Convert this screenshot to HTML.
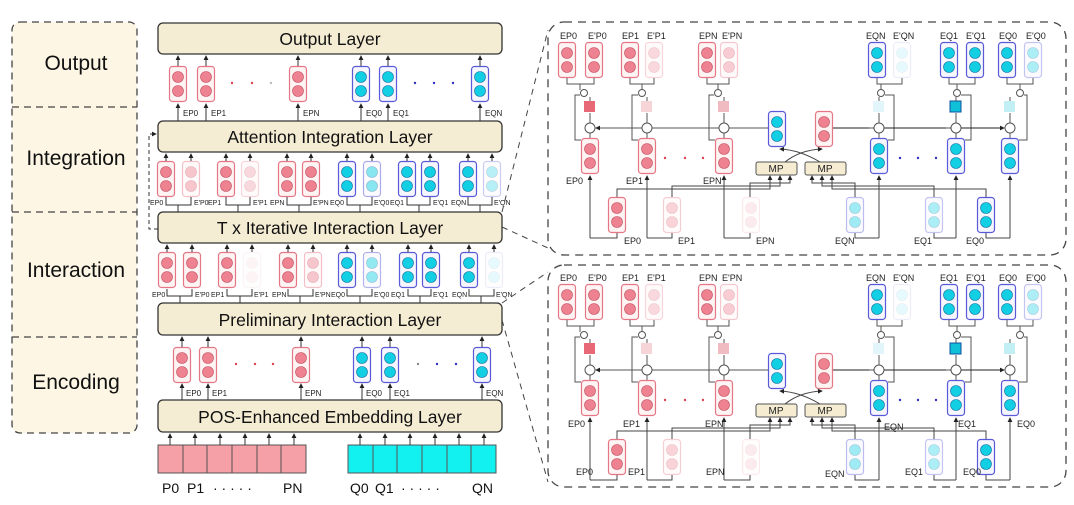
<!DOCTYPE html>
<html><head><meta charset="utf-8"><style>
html,body{margin:0;padding:0;background:#fff}
svg{display:block;font-family:"Liberation Sans",sans-serif}
</style></head><body>
<svg width="1074" height="505" viewBox="0 0 1074 505" xmlns="http://www.w3.org/2000/svg">
<defs>
<marker id="ah" viewBox="0 0 6 6" refX="5" refY="3" markerWidth="5" markerHeight="5" orient="auto"><path d="M0,0L6,3L0,6z" fill="#222"/></marker>
<symbol id="r" width="18" height="36" overflow="visible"><rect x="0.5" y="0.5" width="17" height="35" rx="3" fill="#fff4f4" stroke="#e57686" stroke-width="1.2"/><circle cx="9" cy="11" r="5.5" fill="#ee8290" stroke="#c05060" stroke-width=".6"/><circle cx="9" cy="25" r="5.5" fill="#ee8290" stroke="#c05060" stroke-width=".6"/></symbol>
<symbol id="b" width="18" height="36" overflow="visible"><rect x="0.5" y="0.5" width="17" height="35" rx="3" fill="#f6f6ff" stroke="#5a5ad8" stroke-width="1.2"/><circle cx="9" cy="11" r="5.5" fill="#12cfe3" stroke="#1070a0" stroke-width=".6"/><circle cx="9" cy="25" r="5.5" fill="#12cfe3" stroke="#1070a0" stroke-width=".6"/></symbol>
<g id="panel">
 <use href="#r" x="558" y="42"/><use href="#r" x="585" y="42"/>
 <use href="#r" x="621" y="42"/><use href="#r" x="645" y="42" opacity=".3"/>
 <use href="#r" x="698" y="42"/><use href="#r" x="720" y="42" opacity=".4"/>
 <use href="#b" x="868" y="42"/><use href="#b" x="893" y="42" opacity=".1"/>
 <use href="#b" x="940" y="42"/><use href="#b" x="966" y="42"/>
 <use href="#b" x="998" y="42"/><use href="#b" x="1024" y="42" opacity=".35"/>
 <g fill="none" stroke="#555" stroke-width="1">
  <path d="M567,78V84H594V78M580,84V90"/><path d="M630,78V84H654V78M642,84V90"/><path d="M707,78V84H729V78M718,84V90"/>
  <path d="M877,78V84H902V78M881,84V90"/><path d="M949,78V84H975V78M957,84V90"/><path d="M1007,78V84H1033V78M1020,84V90"/>
 </g>
 <g fill="#fff" stroke="#555" stroke-width="1">
  <circle cx="584" cy="93" r="3.5"/><circle cx="642" cy="93" r="3.5"/><circle cx="718" cy="93" r="3.5"/>
  <circle cx="881" cy="93" r="3.5"/><circle cx="957" cy="93" r="3.5"/><circle cx="1020" cy="93" r="3.5"/>
 </g>
 <rect x="584" y="101" width="11" height="11" fill="#e86878"/>
 <rect x="641" y="101" width="11" height="11" fill="#f0b8bc" opacity=".6"/>
 <rect x="718" y="101" width="11" height="11" fill="#eaa0a8" opacity=".7"/>
 <rect x="873" y="101" width="11" height="11" fill="#cdeef6" opacity=".6"/>
 <rect x="950" y="101" width="11" height="11" fill="#10c0d8" stroke="#1050a0"/>
 <rect x="1004" y="101" width="11" height="11" fill="#a8e8f0" opacity=".7"/>
 <g fill="none" stroke="#555" stroke-width="1">
  <path d="M590,138V133M590,123V113M590,101V97"/><path d="M581,140H575V95H580"/>
  <path d="M647,138V133M647,123V113M647,101V97"/><path d="M638,140H632V95H638"/>
  <path d="M724,138V133M724,123V113M724,101V97"/><path d="M715,140H709V95H714"/>
  <path d="M879,138V133M879,123V113M879,101V97"/><path d="M888,140H894V95H885"/>
  <path d="M956,138V133M956,123V113M956,101V97"/><path d="M965,140H971V95H961"/>
  <path d="M1010,138V133M1010,123V113M1010,101V97"/><path d="M1019,140H1027V95H1024"/>
  <path d="M768,128H596" marker-end="url(#ah)"/><path d="M833,128H1004" stroke="#222"/>
  <path d="M869,128H873M946,128H950M1000,128H1004" marker-end="url(#ah)"/>
 </g>
 <g fill="#fff" stroke="#555" stroke-width="1">
  <circle cx="590" cy="128" r="5"/><circle cx="647" cy="128" r="5"/><circle cx="724" cy="128" r="5"/>
  <circle cx="879" cy="128" r="5"/><circle cx="956" cy="128" r="5"/><circle cx="1010" cy="128" r="5"/>
 </g>
 <use href="#r" x="581" y="138"/><use href="#r" x="638" y="138"/><use href="#r" x="715" y="138"/>
 <use href="#b" x="870" y="138"/><use href="#b" x="947" y="138"/><use href="#b" x="1001" y="138"/>
 <use href="#b" x="768" y="111"/><use href="#r" x="815" y="111"/>
 <g fill="#e04050"><circle cx="665" cy="158" r="1.2"/><circle cx="685" cy="158" r="1.2"/><circle cx="703" cy="158" r="1.2"/></g>
 <g fill="#3030c0"><circle cx="900" cy="158" r="1.2"/><circle cx="918" cy="158" r="1.2"/><circle cx="936" cy="158" r="1.2"/></g>
 <rect x="756" y="162" width="41" height="13" rx="2" fill="#f5ecd2" stroke="#555"/>
 <rect x="805" y="162" width="41" height="13" rx="2" fill="#f5ecd2" stroke="#555"/>
 <g fill="none" stroke="#444" stroke-width="1">
  <path d="M785,162Q800,150 822,149" marker-end="url(#ah)"/><path d="M820,162Q800,150 780,149" marker-end="url(#ah)"/>
  <path d="M590,238V176" marker-end="url(#ah)"/><path d="M647,238V176" marker-end="url(#ah)"/><path d="M724,238V176" marker-end="url(#ah)"/>
  <path d="M879,238V176" marker-end="url(#ah)"/><path d="M956,238V176" marker-end="url(#ah)"/><path d="M1010,238V176" marker-end="url(#ah)"/>
  <path d="M617,197V189H770V176" marker-end="url(#ah)"/><path d="M672,197V186H780V176" marker-end="url(#ah)"/><path d="M750,197V183H790V176" marker-end="url(#ah)"/>
  <path d="M855,197V183H812V176" marker-end="url(#ah)"/><path d="M934,197V186H822V176" marker-end="url(#ah)"/><path d="M986,197V189H832V176" marker-end="url(#ah)"/>
  <path d="M590,238H617V233M647,238H672V233M724,238H750V233M879,238H855V233M956,238H934V233M1010,238H986V233"/>
 </g>
 <use href="#r" x="608" y="197"/><use href="#r" x="663" y="197" opacity=".35"/><use href="#r" x="742" y="197" opacity=".15"/>
 <use href="#b" x="846" y="197" opacity=".4"/><use href="#b" x="925" y="197" opacity=".35"/><use href="#b" x="977" y="197"/>
</g>
</defs>

<rect x="12" y="22" width="125" height="411" rx="8" fill="#fdf6e4" stroke="#444" stroke-dasharray="7,5" stroke-width="1.3"/>
<path d="M12,107H137M12,212H137M12,337H137" stroke="#444" stroke-dasharray="7,5" stroke-width="1.3"/>
<g font-size="21" text-anchor="middle" fill="#111">
<text x="76" y="70">Output</text><text x="76" y="165">Integration</text><text x="76" y="277">Interaction</text><text x="76" y="389">Encoding</text>
</g>

<g fill="#f5ecd4" stroke="#333" stroke-width="1.3">
<rect x="158" y="23" width="344" height="31" rx="5"/>
<rect x="158" y="121" width="344" height="31" rx="5"/>
<rect x="158" y="212" width="344" height="31" rx="5"/>
<rect x="158" y="303" width="344" height="32" rx="5"/>
<rect x="158" y="400" width="344" height="32" rx="5"/>
</g>
<g font-size="17.5" text-anchor="middle" fill="#111">
<text x="330" y="45">Output Layer</text>
<text x="330" y="143">Attention Integration Layer</text>
<text x="330" y="234">T x Iterative Interaction Layer</text>
<text x="330" y="326">Preliminary Interaction Layer</text>
<text x="330" y="423">POS-Enhanced Embedding Layer</text>
</g>

<use href="#r" x="169" y="66"/><use href="#r" x="197" y="66"/><use href="#r" x="289" y="66"/>
<use href="#b" x="352" y="66"/><use href="#b" x="379" y="66"/><use href="#b" x="471" y="66"/>
<g stroke="#333" fill="none" marker-end="url(#ah)">
<path d="M178,66V56"/><path d="M206,66V56"/><path d="M298,66V56"/><path d="M361,66V56"/><path d="M388,66V56"/><path d="M480,66V56"/>
<path d="M178,121V104"/><path d="M206,121V104"/><path d="M298,121V104"/><path d="M361,121V104"/><path d="M388,121V104"/><path d="M480,121V104"/>
</g>
<g fill="#e04050"><circle cx="232" cy="83" r="1.2"/><circle cx="252" cy="83" r="1.2"/><circle cx="271" cy="83" r="1.2" fill="#bbb"/></g>
<g fill="#3030c0"><circle cx="415" cy="83" r="1.2"/><circle cx="434" cy="83" r="1.2"/><circle cx="453" cy="83" r="1.2"/></g>
<g font-size="8" fill="#222"><text x="183" y="116">EP0</text><text x="211" y="116">EP1</text><text x="303" y="116">EPN</text><text x="366" y="116">EQ0</text><text x="393" y="116">EQ1</text><text x="485" y="116">EQN</text></g>

<use href="#r" x="157" y="161"/><use href="#r" x="182" y="161" opacity=".45"/>
<use href="#r" x="217" y="161"/><use href="#r" x="241" y="161" opacity=".3"/>
<use href="#r" x="278" y="161"/><use href="#r" x="302" y="161"/>
<use href="#b" x="338" y="161"/><use href="#b" x="363" y="161" opacity=".5"/>
<use href="#b" x="398" y="161"/><use href="#b" x="421" y="161"/>
<use href="#b" x="459" y="161"/><use href="#b" x="483" y="161" opacity=".3"/>
<g stroke="#333" fill="none">
<g marker-end="url(#ah)"><path d="M166,161V154"/><path d="M191,161V154"/><path d="M226,161V154"/><path d="M250,161V154"/><path d="M287,161V154"/><path d="M311,161V154"/><path d="M347,161V154"/><path d="M372,161V154"/><path d="M407,161V154"/><path d="M430,161V154"/><path d="M468,161V154"/><path d="M492,161V154"/></g>
<path d="M166,197V205H191V197M178,205V212M226,197V205H250V197M238,205V212M287,197V205H311V197M299,205V212M347,197V205H372V197M360,205V212M407,197V205H430V197M419,205V212M468,197V205H492V197M480,205V212"/>
</g>
<g font-size="7" fill="#222"><text x="150" y="205">EP0</text><text x="194" y="205">E'P0</text><text x="208" y="205">EP1</text><text x="253" y="205">E'P1</text><text x="270" y="205">EPN</text><text x="313" y="205">E'PN</text><text x="330" y="205">EQ0</text><text x="374" y="205">E'Q0</text><text x="390" y="205">EQ1</text><text x="433" y="205">E'Q1</text><text x="451" y="205">EQN</text><text x="494" y="205">E'QN</text></g>

<use href="#r" x="158" y="252"/><use href="#r" x="183" y="252"/>
<use href="#r" x="218" y="252"/><use href="#r" x="243" y="252" opacity=".08"/>
<use href="#r" x="279" y="252"/><use href="#r" x="304" y="252" opacity=".45"/>
<use href="#b" x="338" y="252"/><use href="#b" x="363" y="252" opacity=".45"/>
<use href="#b" x="399" y="252"/><use href="#b" x="422" y="252"/>
<use href="#b" x="460" y="252"/><use href="#b" x="485" y="252" opacity=".1"/>
<g stroke="#333" fill="none">
<g marker-end="url(#ah)"><path d="M167,252V245"/><path d="M192,252V245"/><path d="M227,252V245"/><path d="M252,252V245"/><path d="M288,252V245"/><path d="M313,252V245"/><path d="M347,252V245"/><path d="M372,252V245"/><path d="M408,252V245"/><path d="M431,252V245"/><path d="M469,252V245"/><path d="M494,252V245"/></g>
<path d="M167,289V296H192V289M180,296V303M227,289V296H252V289M240,296V303M288,289V296H313V289M300,296V303M347,289V296H372V289M360,296V303M408,289V296H431V289M420,296V303M469,289V296H494V289M481,296V303"/>
</g>
<g font-size="7" fill="#222"><text x="152" y="297">EP0</text><text x="195" y="297">E'P0</text><text x="211" y="297">EP1</text><text x="254" y="297">E'P1</text><text x="272" y="297">EPN</text><text x="315" y="297">E'PN</text><text x="331" y="297">EQ0</text><text x="374" y="297">E'Q0</text><text x="391" y="297">EQ1</text><text x="433" y="297">E'Q1</text><text x="452" y="297">EQN</text><text x="496" y="297">E'QN</text></g>

<use href="#r" x="173" y="347"/><use href="#r" x="199" y="347"/><use href="#r" x="292" y="347"/>
<use href="#b" x="353" y="347"/><use href="#b" x="381" y="347"/><use href="#b" x="473" y="347"/>
<g stroke="#333" fill="none" marker-end="url(#ah)">
<path d="M182,347V337"/><path d="M208,347V337"/><path d="M301,347V337"/><path d="M362,347V337"/><path d="M390,347V337"/><path d="M482,347V337"/>
<path d="M182,400V384"/><path d="M208,400V384"/><path d="M301,400V384"/><path d="M362,400V384"/><path d="M390,400V384"/><path d="M482,400V384"/>
</g>
<g fill="#e04050"><circle cx="236" cy="364" r="1.2"/><circle cx="255" cy="364" r="1.2"/><circle cx="273" cy="364" r="1.2"/></g>
<g fill="#3030c0"><circle cx="418" cy="364" r="1.2" fill="#888"/><circle cx="437" cy="364" r="1.2"/><circle cx="456" cy="364" r="1.2"/></g>
<g font-size="8" fill="#222"><text x="186" y="396">EP0</text><text x="212" y="396">EP1</text><text x="305" y="396">EPN</text><text x="366" y="396">EQ0</text><text x="394" y="396">EQ1</text><text x="486" y="396">EQN</text></g>

<g stroke="#555" stroke-width="1">
<rect x="158" y="445" width="148" height="28" fill="#f4a0a6"/>
<path d="M183,445V473M207,445V473M232,445V473M257,445V473M281,445V473"/>
<rect x="348" y="445" width="148" height="28" fill="#12f0f0"/>
<path d="M373,445V473M397,445V473M422,445V473M447,445V473M471,445V473"/>
</g>
<g stroke="#333" fill="none" marker-end="url(#ah)">
<path d="M170,445V434"/><path d="M195,445V434"/><path d="M220,445V434"/><path d="M245,445V434"/><path d="M269,445V434"/><path d="M294,445V434"/>
<path d="M360,445V434"/><path d="M385,445V434"/><path d="M410,445V434"/><path d="M435,445V434"/><path d="M459,445V434"/><path d="M484,445V434"/>
</g>
<g font-size="14" fill="#111"><text x="162" y="493">P0</text><text x="187" y="493">P1</text><text x="213" y="493">·  ·  ·  ·  ·</text><text x="283" y="493">PN</text>
<text x="350" y="493">Q0</text><text x="375" y="493">Q1</text><text x="401" y="493">·  ·  ·  ·  ·</text><text x="472" y="493">QN</text></g>

<path d="M158,229H149V134H156" fill="none" stroke="#333" stroke-dasharray="4,3" marker-end="url(#ah)"/>

<rect x="548" y="22" width="518" height="233" rx="16" fill="none" stroke="#444" stroke-width="1.3" stroke-dasharray="8,6"/>
<rect x="548" y="265" width="518" height="222" rx="16" fill="none" stroke="#444" stroke-width="1.3" stroke-dasharray="8,6"/>
<path d="M502,227L548,248M502,320L548,482M502,212L548,30M502,303L548,272" stroke="#444" stroke-dasharray="6,5" fill="none"/>
<use href="#panel"/>
<use href="#panel" y="242"/>

<g font-size="9" fill="#222">
<text x="560" y="39">EP0</text><text x="588" y="39">E'P0</text><text x="622" y="39">EP1</text><text x="647" y="39">E'P1</text><text x="699" y="39">EPN</text><text x="722" y="39">E'PN</text>
<text x="866" y="39">EQN</text><text x="893" y="39">E'QN</text><text x="940" y="39">EQ1</text><text x="966" y="39">E'Q1</text><text x="999" y="39">EQ0</text><text x="1026" y="39">E'Q0</text>
<text x="566" y="184">EP0</text><text x="626" y="184">EP1</text><text x="703" y="184">EPN</text>
<text x="624" y="244">EP0</text><text x="678" y="244">EP1</text><text x="756" y="244">EPN</text>
<text x="835" y="244">EQN</text><text x="914" y="244">EQ1</text><text x="966" y="244">EQ0</text>
<text x="560" y="281">EP0</text><text x="588" y="281">E'P0</text><text x="622" y="281">EP1</text><text x="647" y="281">E'P1</text><text x="699" y="281">EPN</text><text x="722" y="281">E'PN</text>
<text x="866" y="281">EQN</text><text x="893" y="281">E'QN</text><text x="940" y="281">EQ1</text><text x="966" y="281">E'Q1</text><text x="999" y="281">EQ0</text><text x="1026" y="281">E'Q0</text>
<text x="568" y="427">EP0</text><text x="623" y="427">EP1</text><text x="705" y="427">EPN</text>
<text x="884" y="430">EQN</text><text x="958" y="427">EQ1</text><text x="1017" y="427">EQ0</text>
<text x="576" y="475">EP0</text><text x="628" y="475">EP1</text><text x="706" y="475">EPN</text>
<text x="825" y="477">EQN</text><text x="905" y="475">EQ1</text><text x="963" y="475">EQ0</text>
</g>
<g font-size="10" fill="#222" text-anchor="middle"><text x="776" y="172">MP</text><text x="825" y="172">MP</text><text x="776" y="414">MP</text><text x="825" y="414">MP</text></g>
</svg>
</body></html>
